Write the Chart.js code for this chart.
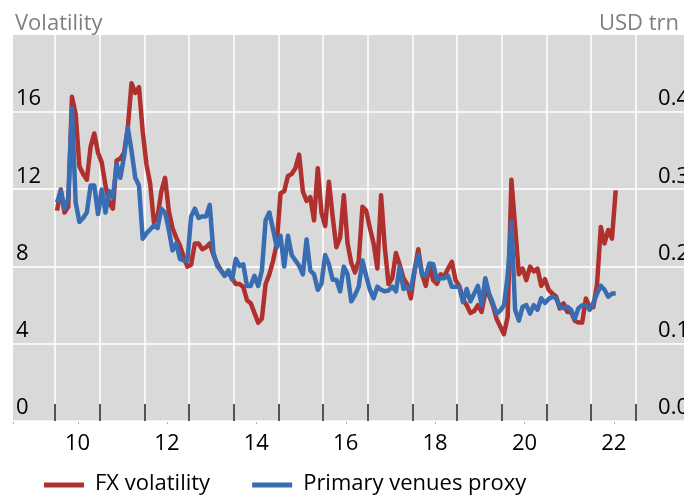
<!DOCTYPE html>
<html>
<head>
<meta charset="utf-8">
<script src="https://cdn.jsdelivr.net/npm/chart.js@4/dist/chart.umd.min.js"></script>
<style>
html,body{margin:0;padding:0;background:#fff;}
#wrap{width:684px;height:497px;position:relative;}
</style>
</head>
<body>
<div id="wrap"><canvas id="c" width="684" height="497"></canvas></div>
<script>
// ---- data (monthly, Jan 2010 onward) ----
const firstYear = 2010;
const seriesLabels = ['FX volatility', 'Primary venues proxy'];
const leftAxisTitle = 'Volatility';
const rightAxisTitle = 'USD trn';
const fxVolatility = [
  10.9,12.0,10.8,11.1,16.8,15.9,13.2,12.8,12.5,14.2,
  14.9,13.9,13.4,12.2,11.3,11.0,13.5,13.6,13.9,15.2,
  17.5,17.0,17.3,15.0,13.3,12.3,10.3,10.6,11.9,12.6,
  10.9,10.0,9.5,9.1,8.5,8.0,8.1,9.2,9.2,8.9,
  9.0,9.2,8.6,8.15,7.8,7.55,7.7,7.4,7.1,7.1,
  6.95,6.26,6.1,5.6,5.1,5.3,7.1,7.6,8.3,9.2,
  11.8,11.9,12.7,12.8,13.1,13.8,11.9,11.4,11.6,10.4,
  13.1,10.8,10.1,12.4,10.6,9.0,9.5,11.7,9.2,8.2,
  7.7,8.3,11.1,10.9,10.0,9.2,7.9,11.7,9.0,7.1,
  7.4,8.7,8.1,7.4,7.1,6.35,7.8,8.9,7.6,7.0,
  8.1,7.3,7.1,7.6,7.5,7.9,8.25,7.3,7.0,6.3,
  6.0,5.6,5.7,6.0,5.65,6.7,6.5,6.0,5.3,4.9,
  4.5,5.4,12.5,10.05,7.6,7.9,7.3,8.0,7.75,7.9,
  7.0,7.35,6.8,6.6,6.45,5.83,6.1,5.65,5.65,5.2,
  5.1,5.1,6.35,5.9,5.9,7.1,10.05,9.2,9.9,9.45,
  11.95
];
const primaryVenuesProxy = [
  .283,.298,.275,.288,.405,.283,.258,.263,.270,.305,
  .305,.268,.300,.270,.298,.290,.333,.315,.343,.380,
  .350,.315,.305,.236,.243,.248,.253,.250,.275,.270,
  .248,.221,.230,.210,.208,.208,.265,.275,.263,.265,
  .265,.280,.218,.201,.195,.188,.195,.183,.210,.201,
  .203,.175,.175,.188,.175,.195,.260,.270,.248,.225,
  .240,.200,.240,.215,.208,.201,.190,.235,.195,.190,
  .170,.178,.215,.203,.183,.183,.168,.200,.190,.155,
  .163,.174,.208,.188,.170,.159,.174,.170,.168,.169,
  .174,.168,.200,.171,.174,.171,.195,.215,.190,.188,
  .204,.203,.183,.185,.185,.188,.174,.174,.174,.154,
  .171,.155,.165,.175,.150,.185,.165,.153,.139,.143,
  .150,.188,.258,.144,.130,.148,.150,.139,.150,.144,
  .159,.153,.158,.161,.159,.148,.146,.148,.144,.132,
  .146,.150,.150,.144,.153,.165,.175,.170,.161,.165,
  .165
];
const leftTicks = [0, 4, 8, 12, 16];
const rightTicks = [0, 0.1, 0.2, 0.3, 0.4];
const yearTicks = [2010,2011,2012,2013,2014,2015,2016,2017,2018,2019,2020,2021,2022,2023];
const labelledYears = [2010,2012,2014,2016,2018,2020,2022];

// ---- style ----
const FONT = '"Open Sans", sans-serif';
const RED = '#b0302e';
const BLUE = '#386db1';
const PLOT_BG = '#d9d9d9';
const X_MIN = 2009.056, X_MAX = 2024.07;

const monthX = i => firstYear + (i + 0.5) / 12;
const fxPoints = fxVolatility.map((v, i) => ({x: monthX(i), y: v}));
const pvPoints = primaryVenuesProxy.map((v, i) => ({x: monthX(i), y: v}));

const bgPlugin = {
  id: 'plotBg',
  beforeDatasetsDraw(chart) {
    const {ctx, chartArea: a} = chart;
    const xs = chart.scales.x, ys = chart.scales.y;
    ctx.save();
    ctx.fillStyle = PLOT_BG;
    ctx.fillRect(a.left, a.top, a.right - a.left, a.bottom - a.top);
    ctx.fillStyle = '#ffffff';
    // horizontal grid lines
    leftTicks.forEach(v => {
      const py = Math.round(ys.getPixelForValue(v));
      ctx.fillRect(a.left, py - 0.75, a.right - a.left, 1.5);
    });
    // vertical year grid lines
    yearTicks.forEach(yv => {
      const px = Math.round(xs.getPixelForValue(yv));
      ctx.fillRect(px - 0.75, a.top, 1.5, a.bottom - a.top);
    });
    // short dark ticks at the foot of the plot
    ctx.fillStyle = '#1e1e1e';
    yearTicks.forEach(yv => {
      const px = Math.round(xs.getPixelForValue(yv));
      ctx.fillRect(px - 0.75, a.bottom - 17, 1.5, 17);
    });
    ctx.fillStyle = '#b0b0b0';
    ctx.fillRect(a.left, a.bottom + 1, 1, 2);
    labelledYears.forEach(yv => {
      const px = Math.round(xs.getPixelForValue(yv + 0.5));
      ctx.fillRect(px, a.bottom + 1, 1, 2);
    });
    ctx.restore();
  }
};

const decoPlugin = {
  id: 'deco',
  afterDraw(chart) {
    const {ctx} = chart;
    ctx.save();
    ctx.font = '22px ' + FONT;
    ctx.fillStyle = '#7f7f7f';
    ctx.textBaseline = 'alphabetic';
    ctx.textAlign = 'left';
    ctx.fillText(leftAxisTitle, 15, 30);
    ctx.textAlign = 'right';
    ctx.fillText(rightAxisTitle, 679, 30);
    // legend
    ctx.textAlign = 'left';
    ctx.textBaseline = 'middle';
    let x = 44;
    const y = 485;
    chart.data.datasets.forEach(ds => {
      ctx.fillStyle = ds.borderColor;
      ctx.fillRect(x, y - 2.5, 40, 5);
      ctx.fillStyle = '#000';
      ctx.fillText(ds.label, x + 40 + 11, y - 1);
      x += 40 + 11 + ctx.measureText(ds.label).width + 42;
    });
    ctx.restore();
  }
};

new Chart(document.getElementById('c'), {
  type: 'line',
  data: {
    datasets: [
      {label: seriesLabels[0], data: fxPoints, yAxisID: 'y', borderColor: RED, backgroundColor: RED,
       borderWidth: 4.5, pointRadius: 0, tension: 0, borderJoinStyle: 'round', order: 2, fill: false},
      {label: seriesLabels[1], data: pvPoints, yAxisID: 'y1', borderColor: BLUE, backgroundColor: BLUE,
       borderWidth: 4.5, pointRadius: 0, tension: 0, borderJoinStyle: 'round', order: 1, fill: false}
    ]
  },
  options: {
    responsive: false,
    animation: false,
    devicePixelRatio: 1,
    layout: {padding: {left: 13, right: 0, top: 35, bottom: 46}},
    plugins: {legend: {display: false}, tooltip: {enabled: false}},
    scales: {
      x: {
        type: 'linear', min: X_MIN, max: X_MAX,
        afterBuildTicks: s => { s.ticks = yearTicks.map(v => ({value: v})); },
        afterFit: s => { s.height = 30; s.paddingLeft = 0; s.paddingRight = 0; },
        grid: {display: false, drawTicks: false},
        border: {display: false},
        ticks: {
          z: 0, autoSkip: false, maxRotation: 0, padding: 10, labelOffset: 22.35,
          color: '#000', font: {family: FONT, size: 22},
          callback: v => labelledYears.includes(v) ? String(v - 2000) : ''
        }
      },
      y: {
        position: 'left', min: 0, max: 20,
        afterBuildTicks: s => { s.ticks = leftTicks.map(v => ({value: v})); },
        afterFit: s => { s.width = 0; },
        grid: {display: false, drawTicks: false},
        border: {display: false},
        ticks: {z: 1, mirror: true, padding: 3, labelOffset: -13, color: '#000',
                font: {family: FONT, size: 22}, callback: v => String(v)}
      },
      y1: {
        position: 'right', min: 0, max: 0.5,
        afterBuildTicks: s => { s.ticks = rightTicks.map(v => ({value: v})); },
        afterFit: s => { s.width = 0; },
        grid: {display: false, drawTicks: false},
        border: {display: false},
        ticks: {z: 1, mirror: true, padding: 5, labelOffset: -13, color: '#000',
                font: {family: FONT, size: 22}, callback: v => Number(v).toFixed(1)}
      }
    }
  },
  plugins: [bgPlugin, decoPlugin]
});
</script>
</body>
</html>
